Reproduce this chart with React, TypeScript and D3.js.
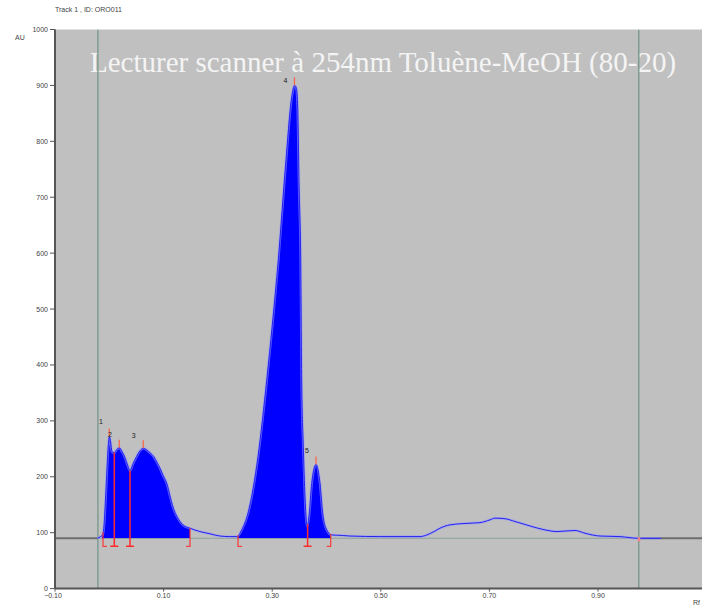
import React from "react";
import * as d3 from "d3";

// Densitometric trace: Rf position vs. absorbance (AU)
const traceRf = [
  -0.022, -0.016, -0.0125, -0.01, -0.007, -0.004, -0.002, 0.0, 0.0025, 0.005, 0.009, 0.013, 0.0184,
  0.023, 0.029, 0.034, 0.038, 0.043, 0.05, 0.056, 0.0626, 0.069, 0.075, 0.082, 0.0878, 0.094, 0.0989,
  0.1063, 0.1118, 0.1173, 0.1247, 0.1357, 0.1486, 0.167, 0.1855, 0.2039, 0.222, 0.2352, 0.2438, 0.2554,
  0.265, 0.2738, 0.2899, 0.3, 0.3112, 0.3254, 0.336, 0.341, 0.3445, 0.347, 0.3495, 0.3525, 0.3543,
  0.3573, 0.3604, 0.3646, 0.3683, 0.3727, 0.3807, 0.388, 0.393, 0.4004, 0.4096, 0.43, 0.4433, 0.5,
  0.5722, 0.585, 0.598, 0.609, 0.6274, 0.6643, 0.6827, 0.7011, 0.7103, 0.7287, 0.7471, 0.7748, 0.8024,
  0.8245, 0.8576, 0.876, 0.9037, 0.9405, 0.9737, 1.016,
];
const traceAu = [
  90, 93, 96, 110, 160, 220, 255, 272, 262, 245, 243, 248, 252,
  246, 234, 220, 211, 222, 236, 246, 251, 248, 243, 236, 226, 214, 203,
  187, 166, 146, 129, 114, 108, 102, 98, 94, 93, 93, 105, 135,
  180, 236, 373, 470, 588, 767, 880, 900, 895, 860, 720, 588, 373,
  254, 164, 111, 135, 188, 222, 189, 135, 105, 96, 95, 94, 93,
  93, 96, 102, 108, 114, 117, 118, 123, 126, 125, 120, 112, 105,
  102, 104, 99, 94, 93, 90, 90,
];

// Peak apexes and their numbers
const peakRf = [0.0, 0.0184, 0.0626, 0.341, 0.3807];
const peakAu = [272, 252, 251, 900, 222];
const peakNames = ["1", "2", "3", "4", "5"];
const labelRf = [-0.0153, 0.0013, 0.045, 0.3245, 0.364];
const labelAu = [295, 272, 270, 905, 242];

// Integration windows
const windowStart = [-0.0116, 0.237];
const windowEnd = [0.1486, 0.4077];
const fillStart = [-0.0135, 0.236];
const splitRf = [0.0092, 0.0381, 0.3652];

const baselineAu = 90;
const frontRf = [-0.021, 0.975];

const yTicks = [0, 100, 200, 300, 400, 500, 600, 700, 800, 900, 1000];
const xTicks = [-0.1, 0.1, 0.3, 0.5, 0.7, 0.9];

const W = 702;
const H = 609;
const left = 55;
const top = 29.5;
const bottom = 588.6;

export default function App() {
  const x = d3.scaleLinear().domain([-0.1, 1.0915]).range([left, W]);
  const y = d3.scaleLinear().domain([0, 1000]).range([bottom, top]);

  const pts: [number, number][] = traceRf.map((r, i) => [r, traceAu[i]]);
  const valueAt = (r: number) => {
    const i = d3.bisectLeft(traceRf, r);
    if (i <= 0) return traceAu[0];
    if (i >= traceRf.length) return traceAu[traceAu.length - 1];
    const t = (r - traceRf[i - 1]) / (traceRf[i] - traceRf[i - 1]);
    return traceAu[i - 1] + t * (traceAu[i] - traceAu[i - 1]);
  };

  const line = d3
    .line<[number, number]>()
    .x((d) => x(d[0]))
    .y((d) => y(d[1]))
    .curve(d3.curveMonotoneX);
  const area = d3
    .area<[number, number]>()
    .x((d) => x(d[0]))
    .y0(y(baselineAu))
    .y1((d) => y(d[1]))
    .curve(d3.curveMonotoneX);

  const yb = y(baselineAu);
  const red = "#ff2a2a";
  const tickFont = "'Liberation Sans', Arial, sans-serif";

  return (
    <svg
      width={W}
      height={H}
      style={{ position: "absolute", left: 0, top: 0, background: "#fff" }}
    >
      <defs>
        <clipPath id="integ">
          {fillStart.map((s, i) => (
            <rect key={i} x={x(s)} y={top} width={x(windowEnd[i]) - x(s)} height={yb - top} />
          ))}
        </clipPath>
        <clipPath id="plot">
          <rect x={left} y={top} width={W - left} height={bottom - top} />
        </clipPath>
      </defs>

      <text x={55} y={12} fontFamily={tickFont} fontSize={7} fill="#444">
        Track 1 , ID: ORO011
      </text>
      <text x={15} y={40} fontFamily={tickFont} fontSize={7} fill="#444">
        AU
      </text>

      {/* plot background */}
      <rect x={left} y={top} width={W - left} height={bottom - top} fill="#c0c0c0" />

      <text
        x={90}
        y={71.7}
        fontFamily="'Liberation Serif', 'Times New Roman', serif"
        fontSize={29}
        fill="#f4f4f4"
      >
        Lecturer scanner à 254nm Toluène-MeOH (80-20)
      </text>

      <g clipPath="url(#plot)">
        {/* baseline */}
        <line x1={left} x2={x(frontRf[0])} y1={yb} y2={yb} stroke="#6e6e6e" strokeWidth={2} />
        <line x1={x(frontRf[1])} x2={W} y1={yb} y2={yb} stroke="#6e6e6e" strokeWidth={2} />
        <line x1={x(frontRf[0])} x2={x(frontRf[1])} y1={yb} y2={yb} stroke="#8aa39a" strokeWidth={1} />

        {/* start and front lines */}
        {frontRf.map((r, i) => (
          <line key={i} x1={x(r)} x2={x(r)} y1={top} y2={bottom} stroke="#7f9c93" strokeWidth={1.5} />
        ))}

        {/* integrated peak areas */}
        <path d={area(pts) ?? ""} fill="#0000ff" clipPath="url(#integ)" />
        <path d={line(pts) ?? ""} fill="none" stroke="#9a9aff" strokeWidth={2.6} opacity={0.6} />
        <path d={line(pts) ?? ""} fill="none" stroke="#2424ee" strokeWidth={1} />

        {/* integration window markers */}
        {windowStart.map((r, i) => {
          const xx = x(r);
          return (
            <path
              key={"s" + i}
              d={`M${xx},${y(valueAt(r))}V${yb + 8}h4`}
              fill="none"
              stroke={red}
              strokeWidth={1.3}
              opacity={0.85}
            />
          );
        })}
        {windowEnd.map((r, i) => {
          const xx = x(r);
          return (
            <path
              key={"e" + i}
              d={`M${xx},${y(valueAt(r))}V${yb + 8}h-4`}
              fill="none"
              stroke={red}
              strokeWidth={1.3}
              opacity={0.85}
            />
          );
        })}
        {splitRf.map((r, i) => {
          const xx = x(r);
          return (
            <path
              key={"p" + i}
              d={`M${xx},${y(valueAt(r))}V${yb + 8}M${xx - 4},${yb + 8}h8`}
              fill="none"
              stroke={red}
              strokeWidth={1.5}
            />
          );
        })}
        {frontRf.slice(1).map((r, i) => (
          <rect key={"f" + i} x={x(r) - 1} y={yb - 1} width={2.5} height={4} fill="#ff8080" />
        ))}

        {/* apex ticks */}
        {peakRf.map((r, i) => (
          <line
            key={"a" + i}
            x1={x(r)}
            x2={x(r)}
            y1={y(peakAu[i])}
            y2={y(peakAu[i]) - 8}
            stroke="#ff6040"
            strokeWidth={1.3}
            opacity={0.9}
          />
        ))}
        {peakNames.map((n, i) => (
          <text
            key={"n" + i}
            x={x(labelRf[i])}
            y={y(labelAu[i])}
            textAnchor="middle"
            fontFamily={tickFont}
            fontSize={7}
            fill="#222"
          >
            {n}
          </text>
        ))}
      </g>

      {/* axes */}
      <line x1={left} x2={left} y1={top} y2={bottom} stroke="#555" strokeWidth={2} />
      <line x1={left} x2={W} y1={bottom} y2={bottom} stroke="#555" strokeWidth={2} />
      {yTicks.map((t) => (
        <g key={"y" + t}>
          <line x1={left - 5} x2={left} y1={y(t)} y2={y(t)} stroke="#555" strokeWidth={1} />
          <text
            x={left - 7}
            y={y(t) + 2.5}
            textAnchor="end"
            fontFamily={tickFont}
            fontSize={7}
            fill="#444"
          >
            {t}
          </text>
        </g>
      ))}
      {xTicks.map((t) => (
        <g key={"x" + t}>
          <line x1={x(t)} x2={x(t)} y1={bottom} y2={bottom + 3} stroke="#555" strokeWidth={1} />
          <text
            x={x(t) - (t < 0 ? 2 : 0)}
            y={bottom + 9}
            textAnchor="middle"
            fontFamily={tickFont}
            fontSize={7}
            fill="#444"
          >
            {d3.format(".2f")(t)}
          </text>
        </g>
      ))}
      <text x={693} y={605} fontFamily={tickFont} fontSize={7} fill="#444">
        Rf
      </text>
    </svg>
  );
}
